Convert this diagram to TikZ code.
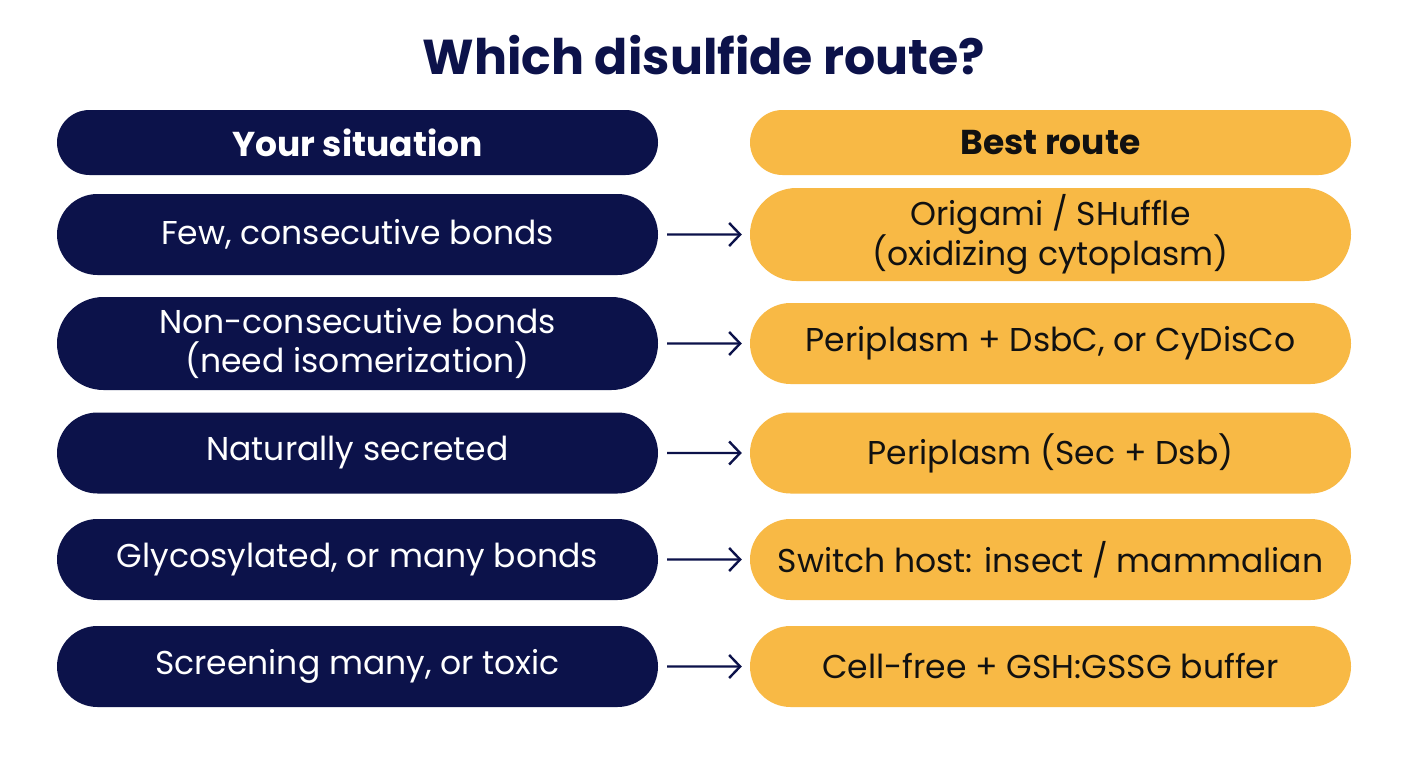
\documentclass[tikz,border=0pt]{standalone}
\usepackage{fontspec}
\setmainfont{Poppins}
\usetikzlibrary{shapes.misc,arrows.meta}
\definecolor{navy}{HTML}{0C124A}
\definecolor{gold}{HTML}{F8B945}
\definecolor{ink}{HTML}{111111}
\begin{document}
\begin{tikzpicture}[x=1pt,y=-1pt,
  pill/.style={rounded rectangle, inner sep=0pt, minimum width=601pt, align=center,
    font=\fontsize{33}{39}\selectfont},
  sit/.style={pill, fill=navy, text=white},
  rte/.style={pill, fill=gold, text=ink},
  hdr/.style={font=\fontsize{34.5}{40}\selectfont\bfseries},
  arr/.style={navy, line width=2.4pt, -{Straight Barb[length=11pt,width=23pt,line width=2.4pt]},
    shorten <=9pt, shorten >=8pt}]
\useasboundingbox (0,0) rectangle (1408,768);
\fill[white] (0,0) rectangle (1408,768);
\node[font=\fontsize{49}{55}\selectfont\bfseries, text=navy] (title) at (704,55) {Which disulfide route?};

\node[sit, hdr, minimum height=65pt] (lh) at (357.5,142.5) {Your situation};
\node[rte, hdr, minimum height=65pt] (rh) at (1050.5,142.5) {Best route};

\node[sit, minimum height=81pt] (l1) at (357.5,234.5) {Few, consecutive bonds};
\node[rte, minimum height=93pt] (r1) at (1050.5,234.5) {Origami / SHuffle\\(oxidizing cytoplasm)};

\node[sit, minimum height=93pt] (l2) at (357.5,343.5) {Non-consecutive bonds\\(need isomerization)};
\node[rte, minimum height=81pt] (r2) at (1050.5,343.5) {Periplasm + DsbC, or CyDisCo};

\node[sit, minimum height=81pt] (l3) at (357.5,453) {Naturally secreted};
\node[rte, minimum height=81pt] (r3) at (1050.5,453) {Periplasm (Sec + Dsb)};

\node[sit, minimum height=81pt] (l4) at (357.5,559.5) {Glycosylated, or many bonds};
\node[rte, minimum height=81pt] (r4) at (1050.5,559.5) {Switch host: insect / mammalian};

\node[sit, minimum height=81pt] (l5) at (357.5,666.5) {Screening many, or toxic};
\node[rte, minimum height=81pt] (r5) at (1050.5,666.5) {Cell-free + GSH:GSSG buffer};

\foreach \i in {1,...,5} \draw[arr] (l\i) -- (r\i);
\end{tikzpicture}
\end{document}
